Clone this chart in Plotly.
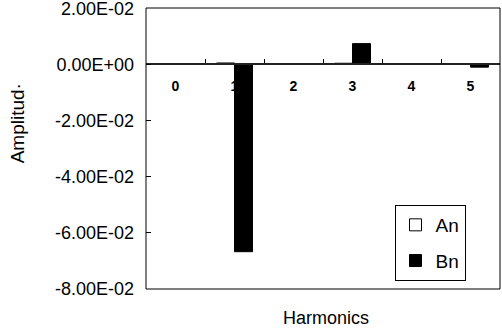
import plotly.graph_objects as go

harmonics = ["0", "1", "2", "3", "4", "5"]
an_values = [0.0002, 0.0005, 0.0001, 0.0004, 0.0001, 0.0002]
bn_values = [0.0, -0.0668, 0.0002, 0.0074, 0.0001, -0.001]
y_tickvals = [0.02, 0.0, -0.02, -0.04, -0.06, -0.08]
y_ticktext = ["2.00E-02", "0.00E+00", "-2.00E-02", "-4.00E-02", "-6.00E-02", "-8.00E-02"]

FONT = "Liberation Sans, Arial, sans-serif"

fig = go.Figure()
fig.add_trace(go.Bar(x=harmonics, y=an_values, name="An", legendgroup="a",
                     marker=dict(color="white", line=dict(color="black", width=1))))
fig.add_trace(go.Bar(x=harmonics, y=bn_values, name="Bn", legendgroup="b",
                     marker=dict(color="black", line=dict(color="black", width=1))))

fig.update_layout(
    width=502, height=330,
    margin=dict(l=146, r=2, t=8, b=41, autoexpand=False),
    paper_bgcolor="white", plot_bgcolor="white",
    barmode="group", bargap=0.39, bargroupgap=0,
    font=dict(family=FONT, color="black"),
    showlegend=True,
    legend=dict(x=0.702, y=0.299, xanchor="left", yanchor="top",
                bordercolor="black", borderwidth=1, bgcolor="white",
                font=dict(size=19, family=FONT), tracegroupgap=8,
                traceorder="grouped", itemwidth=30),
    xaxis=dict(type="category", anchor="free", position=0.8, automargin=False,
               showline=True, linecolor="#222", linewidth=1.5,
               ticks="inside", tickson="boundaries", ticklen=4, tickcolor="black",
               showgrid=False, zeroline=False,
               tickfont=dict(size=14, family="Liberation Sans, Arial", weight="bold"),
               ticklabelstandoff=9),
    yaxis=dict(range=[-0.0801, 0.0201], tickvals=y_tickvals, ticktext=y_ticktext,
               automargin=False, ticklabeloverflow="allow",
               ticks="inside", ticklen=5, tickcolor="black",
               showgrid=False, zeroline=False, showline=False,
               tickfont=dict(size=18, family=FONT), ticklabelstandoff=11),
    shapes=[dict(type="rect", xref="paper", yref="paper", x0=0, x1=1, y0=0, y1=1,
                 line=dict(color="black", width=1), layer="above")],
    annotations=[
        dict(text="Harmonics", xref="paper", yref="paper", x=0.509, y=-0.103,
             xanchor="center", yanchor="middle", showarrow=False,
             font=dict(size=18, family=FONT)),
        dict(text="Amplitud·", xref="paper", yref="paper", x=-0.364, y=0.59,
             xanchor="center", yanchor="middle", showarrow=False, textangle=-90,
             font=dict(size=19, family=FONT)),
    ],
)

fig.write_html("out.html", config={"displayModeBar": False},
               post_script="document.body.style.margin='0';")
